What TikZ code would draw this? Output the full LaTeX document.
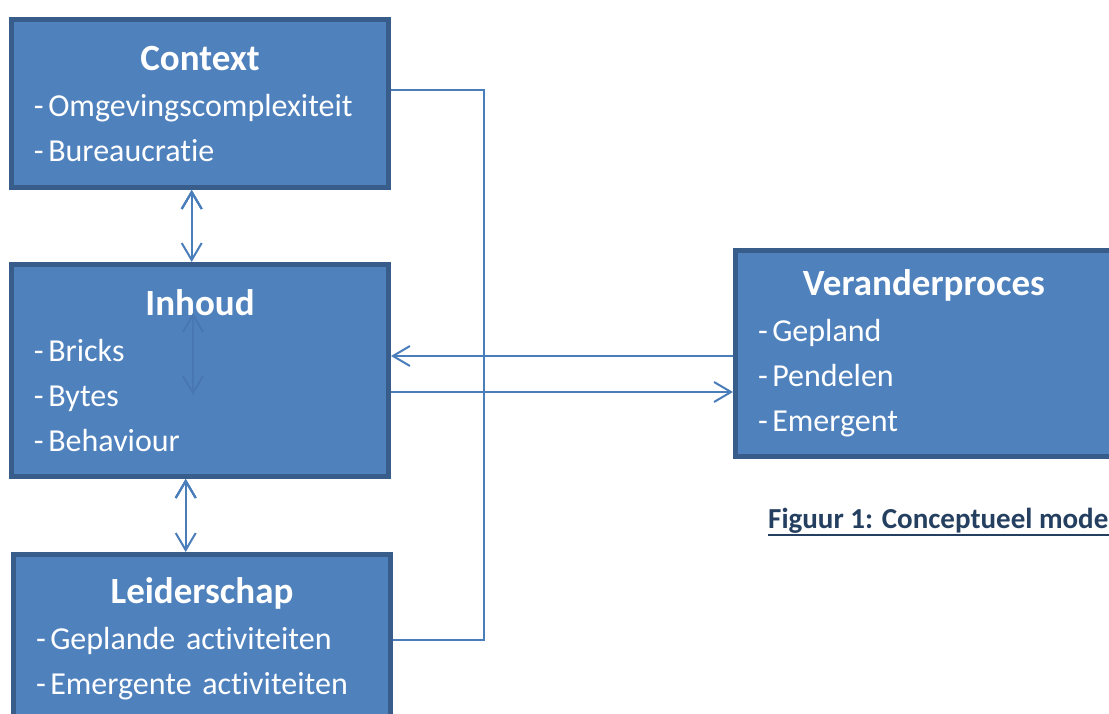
\documentclass[tikz,border=0pt]{standalone}
\usepackage{fontspec}
\setmainfont[Ligatures=NoCommon]{Carlito}
\usetikzlibrary{arrows.meta,positioning}
\definecolor{boxfill}{RGB}{79,129,189}
\definecolor{boxline}{RGB}{56,93,138}
\definecolor{linkcol}{RGB}{74,126,187}
\definecolor{ghostcol}{RGB}{72,119,177}
\definecolor{captcol}{RGB}{36,63,96}
\newcommand{\boxtitle}[1]{\makebox[\linewidth]{\fontsize{37}{45}\selectfont\bfseries #1}\\[1pt]}
\newcommand{\itm}{-\hspace{4.5pt}}
\tikzset{main base/.style={draw=boxline,line width=5pt,fill=boxfill,text=white}, }
\tikzset{main node/.style={rectangle,main base,minimum width=377pt,
    text width=332pt,inner xsep=22.5pt,align=left,
    font=\fontsize{32}{45}\selectfont}, }
\tikzset{barb/.tip={Straight Barb[length=17pt,width=20pt,line width=2pt]}}
\tikzset{linea/.style={barb-barb,draw=linkcol,line width=2pt}}
\tikzset{linea2/.style={-barb,draw=linkcol,line width=2pt}}
\tikzset{link/.style={draw=linkcol,line width=2pt}}

\begin{document}
\begin{tikzpicture}[x=1pt,y=-1pt]
  \useasboundingbox (0,0) rectangle (1109,714);
  \clip (0,0) rectangle (1109,714);
  %
  \node[main node,minimum height=168pt] (ctx) at (200,103.5)
    {\boxtitle{Context}\itm Omgevingscomplexiteit\\\itm Bureaucratie};
  \node[main node,minimum height=212pt] (inh) [below=72pt of ctx]
    {\boxtitle{Inhoud}\itm Bricks\\\itm Bytes\\\itm Behaviour\\[3pt]};
  \node[main node,minimum height=168pt] (lei) [below=73pt of inh,xshift=2pt]
    {\boxtitle{Leiderschap}\itm Geplande activiteiten\\\itm Emergente activiteiten};
  \node[main node,minimum height=206pt] (ver) [right=342pt of inh,yshift=17pt]
    {\boxtitle{Veranderproces}\itm Gepland\\\itm Pendelen\\\itm Emergent};
  %
  \node[font=\fontsize{29}{30}\selectfont\bfseries,text=captcol,inner sep=0pt,
    anchor=base west] (cap) at (768,528.5) {Figuur 1: Conceptueel mode};
  \draw[captcol,line width=2pt] ([yshift=-6pt]cap.base west) -- ([yshift=-6pt]cap.base east);
  %
  \foreach \a/\b/\s in {ctx/inh/-8.3,inh/lei/-14.3}
    \path[linea] ([xshift=\s pt]\a.south) edge ([xshift=\s pt]\a.south |- \b.north);
  \coordinate (g1) at ([xshift=-7pt,yshift=57.5pt]inh.center);
  \coordinate (g2) at ([xshift=-7pt,yshift=-24.5pt]inh.center);
  \draw[linea,draw=ghostcol] (g1) -- (g2);
  %
  \draw[link] ([yshift=13.5pt]ctx.east) -- ++(93,0) |- ([yshift=-1.5pt]lei.east);
  \draw[linea2] ([yshift=-2.5pt]ver.west) -- ([yshift=14.5pt]inh.east);
  \draw[linea2] ([yshift=-21.5pt]inh.east) -- ([yshift=-38.5pt]ver.west);
\end{tikzpicture}
\end{document}
